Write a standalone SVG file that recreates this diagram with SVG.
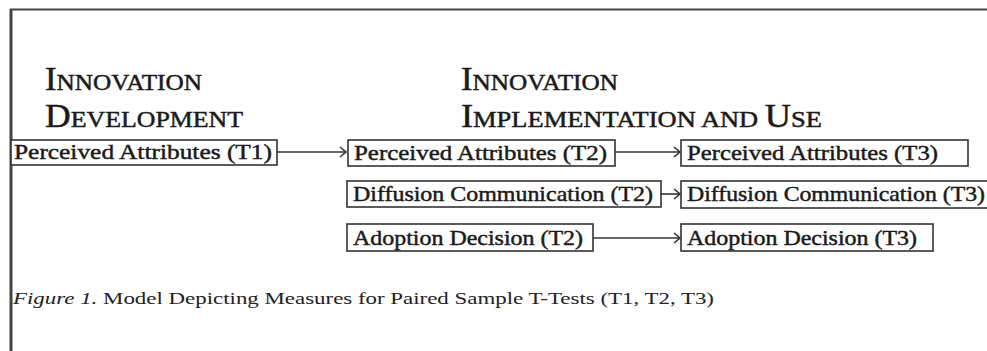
<svg xmlns="http://www.w3.org/2000/svg" width="987" height="351" viewBox="0 0 987 351">
<defs>
<style>
.box{fill:#fff;stroke:#333;stroke-width:1.6}
.bt{font-family:"Liberation Serif",serif;font-size:21px;fill:#1a1a1a;stroke:#1a1a1a;stroke-width:0.45}
.hd{font-family:"Liberation Serif",serif;fill:#1a1a1a;stroke:#1a1a1a;stroke-width:0.5}
.big{font-size:33px}
.sm{font-size:24px}
.cap{font-family:"Liberation Serif",serif;font-size:17px;fill:#222}
.conn{stroke:#333;stroke-width:1.6;fill:none}
.frame{stroke:#444;fill:none}
</style>
<marker id="arr" markerWidth="10" markerHeight="12" refX="8" refY="6" orient="auto" markerUnits="userSpaceOnUse">
<polyline points="2,1 8,6 2,11" fill="none" stroke="#333" stroke-width="1.6"/>
</marker>
</defs>
<rect width="987" height="351" fill="#fff"/>
<path class="frame" d="M10,9.5 H987" stroke-width="2"/>
<path class="frame" d="M11,9 V351" stroke-width="3" stroke="#777"/>
<g id="heading-dev">
<text class="hd" x="45" y="90" textLength="157" lengthAdjust="spacingAndGlyphs"><tspan class="big">I</tspan><tspan class="sm">NNOVATION</tspan></text>
<text class="hd" x="45" y="127" textLength="198" lengthAdjust="spacingAndGlyphs"><tspan class="big">D</tspan><tspan class="sm">EVELOPMENT</tspan></text>
</g>
<g id="heading-impl">
<text class="hd" x="461" y="90" textLength="157" lengthAdjust="spacingAndGlyphs"><tspan class="big">I</tspan><tspan class="sm">NNOVATION</tspan></text>
<text class="hd" x="461" y="127" textLength="361" lengthAdjust="spacingAndGlyphs"><tspan class="big">I</tspan><tspan class="sm">MPLEMENTATION AND </tspan><tspan class="big">U</tspan><tspan class="sm">SE</tspan></text>
</g>
<g id="connectors">
<line class="conn" x1="277" y1="152" x2="346" y2="152" marker-end="url(#arr)"/>
<line class="conn" x1="615" y1="152" x2="680" y2="152" marker-end="url(#arr)"/>
<line class="conn" x1="661" y1="194" x2="680" y2="194" marker-end="url(#arr)"/>
<line class="conn" x1="593" y1="238" x2="680" y2="238" marker-end="url(#arr)"/>
</g>
<g id="pa-t1">
<rect class="box" x="11" y="140" width="266" height="25"/>
<text class="bt" x="14" y="159" textLength="258" lengthAdjust="spacingAndGlyphs">Perceived Attributes (T1)</text>
</g>
<g id="pa-t2">
<rect class="box" x="348" y="140" width="267" height="26"/>
<text class="bt" x="354" y="160" textLength="253" lengthAdjust="spacingAndGlyphs">Perceived Attributes (T2)</text>
</g>
<g id="pa-t3">
<rect class="box" x="681" y="140" width="287" height="26"/>
<text class="bt" x="687" y="160" textLength="251" lengthAdjust="spacingAndGlyphs">Perceived Attributes (T3)</text>
</g>
<g id="dc-t2">
<rect class="box" x="347" y="181" width="314" height="26"/>
<text class="bt" x="353" y="201" textLength="300" lengthAdjust="spacingAndGlyphs">Diffusion Communication (T2)</text>
</g>
<g id="dc-t3">
<rect class="box" x="681" y="181" width="310" height="27"/>
<text class="bt" x="687" y="201" textLength="298" lengthAdjust="spacingAndGlyphs">Diffusion Communication (T3)</text>
</g>
<g id="ad-t2">
<rect class="box" x="347" y="224" width="246" height="27"/>
<text class="bt" x="353" y="245" textLength="230" lengthAdjust="spacingAndGlyphs">Adoption Decision (T2)</text>
</g>
<g id="ad-t3">
<rect class="box" x="681" y="224" width="252" height="27"/>
<text class="bt" x="687" y="245" textLength="230" lengthAdjust="spacingAndGlyphs">Adoption Decision (T3)</text>
</g>
<text class="cap" x="13" y="304" textLength="701" lengthAdjust="spacingAndGlyphs"><tspan font-style="italic">Figure 1.</tspan> Model Depicting Measures for Paired Sample T-Tests (T1, T2, T3)</text>
</svg>
